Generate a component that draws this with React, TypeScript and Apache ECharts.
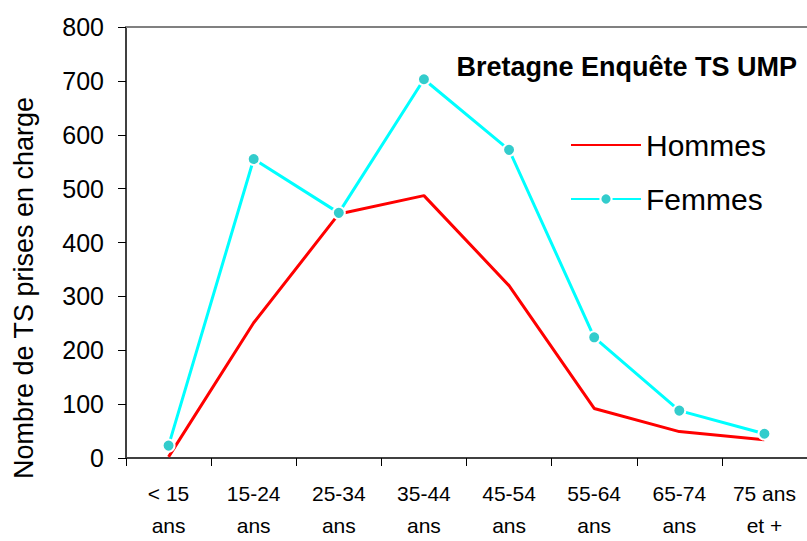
import React, { useEffect, useRef } from "react";
import * as echarts from "echarts";

const categories = ["< 15\nans", "15-24\nans", "25-34\nans", "35-44\nans", "45-54\nans", "55-64\nans", "65-74\nans", "75 ans\net +"];
const hommes = [2, 251, 453, 487, 320, 92, 49, 34];
const femmes = [23, 555, 455, 703, 572, 224, 88, 45];
const yTicks = { min: 0, max: 800, interval: 100 };
const titleText = "Bretagne Enquête TS UMP";
const yAxisTitle = "Nombre de TS prises en charge";

const FONT = "Liberation Sans, Arial, sans-serif";

export default function App() {
  const ref = useRef<HTMLDivElement>(null);
  useEffect(() => {
    document.body.style.margin = "0";
    if (!ref.current) return;
    const chart = echarts.init(ref.current, null, { renderer: "svg" });
    chart.setOption({
      animation: false,
      backgroundColor: "#ffffff",
      textStyle: { fontFamily: FONT, color: "#000" },
      title: {
        text: titleText,
        right: 5,
        top: 48,
        textStyle: { fontFamily: FONT, fontSize: 27, fontWeight: "bold", color: "#000" },
      },
      legend: {
        orient: "vertical",
        left: 565,
        top: 125,
        itemWidth: 70,
        itemHeight: 14,
        itemGap: 24,
        data: [
          { name: "Hommes", itemStyle: { opacity: 0 } },
          { name: "Femmes" },
        ],
        textStyle: { fontFamily: FONT, fontSize: 30, color: "#000", lineHeight: 30 },
      },
      graphic: [
        {
          type: "text",
          x: 24,
          y: 288,
          rotation: Math.PI / 2,
          style: {
            text: yAxisTitle,
            fontFamily: FONT,
            fontSize: 27,
            fill: "#000",
            textAlign: "center",
            textVerticalAlign: "middle",
          },
        },
      ],
      grid: { left: 126, top: 27, right: -2, bottom: 75, containLabel: false },
      xAxis: [
        {
          type: "category",
          data: categories,
          boundaryGap: true,
          axisLine: { show: true, lineStyle: { color: "#404040", width: 2 } },
          axisTick: { show: true, inside: false, length: 8, lineStyle: { color: "#000", width: 1 } },
          axisLabel: { fontFamily: FONT, fontSize: 21, color: "#000", margin: 19, lineHeight: 32, interval: 0 },
        },
        {
          type: "category",
          position: "top",
          data: categories,
          axisLine: { show: true, lineStyle: { color: "#808080", width: 2 } },
          axisTick: { show: false },
          axisLabel: { show: false },
        },
      ],
      yAxis: {
        type: "value",
        min: yTicks.min,
        max: yTicks.max,
        interval: yTicks.interval,
        axisLine: { show: true, lineStyle: { color: "#404040", width: 2 } },
        axisTick: { show: true, inside: false, length: 8, lineStyle: { color: "#000", width: 1 } },
        axisLabel: { fontFamily: FONT, fontSize: 25, color: "#000", margin: 22 },
        splitLine: { show: false },
      },
      series: [
        {
          name: "Hommes",
          type: "line",
          data: hommes,
          symbol: "none",
          color: "#ff0000",
          lineStyle: { color: "#ff0000", width: 3 },
          z: 2,
        },
        {
          name: "Femmes",
          type: "line",
          data: femmes,
          symbol: "circle",
          symbolSize: 12,
          showSymbol: true,
          color: "#33cccc",
          itemStyle: { color: "#33cccc", borderColor: "#ffffff", borderWidth: 2 },
          lineStyle: { color: "#00ffff", width: 3 },
          z: 3,
        },
      ],
    });
    return () => chart.dispose();
  }, []);
  return <div ref={ref} style={{ width: 807, height: 541 }} />;
}
